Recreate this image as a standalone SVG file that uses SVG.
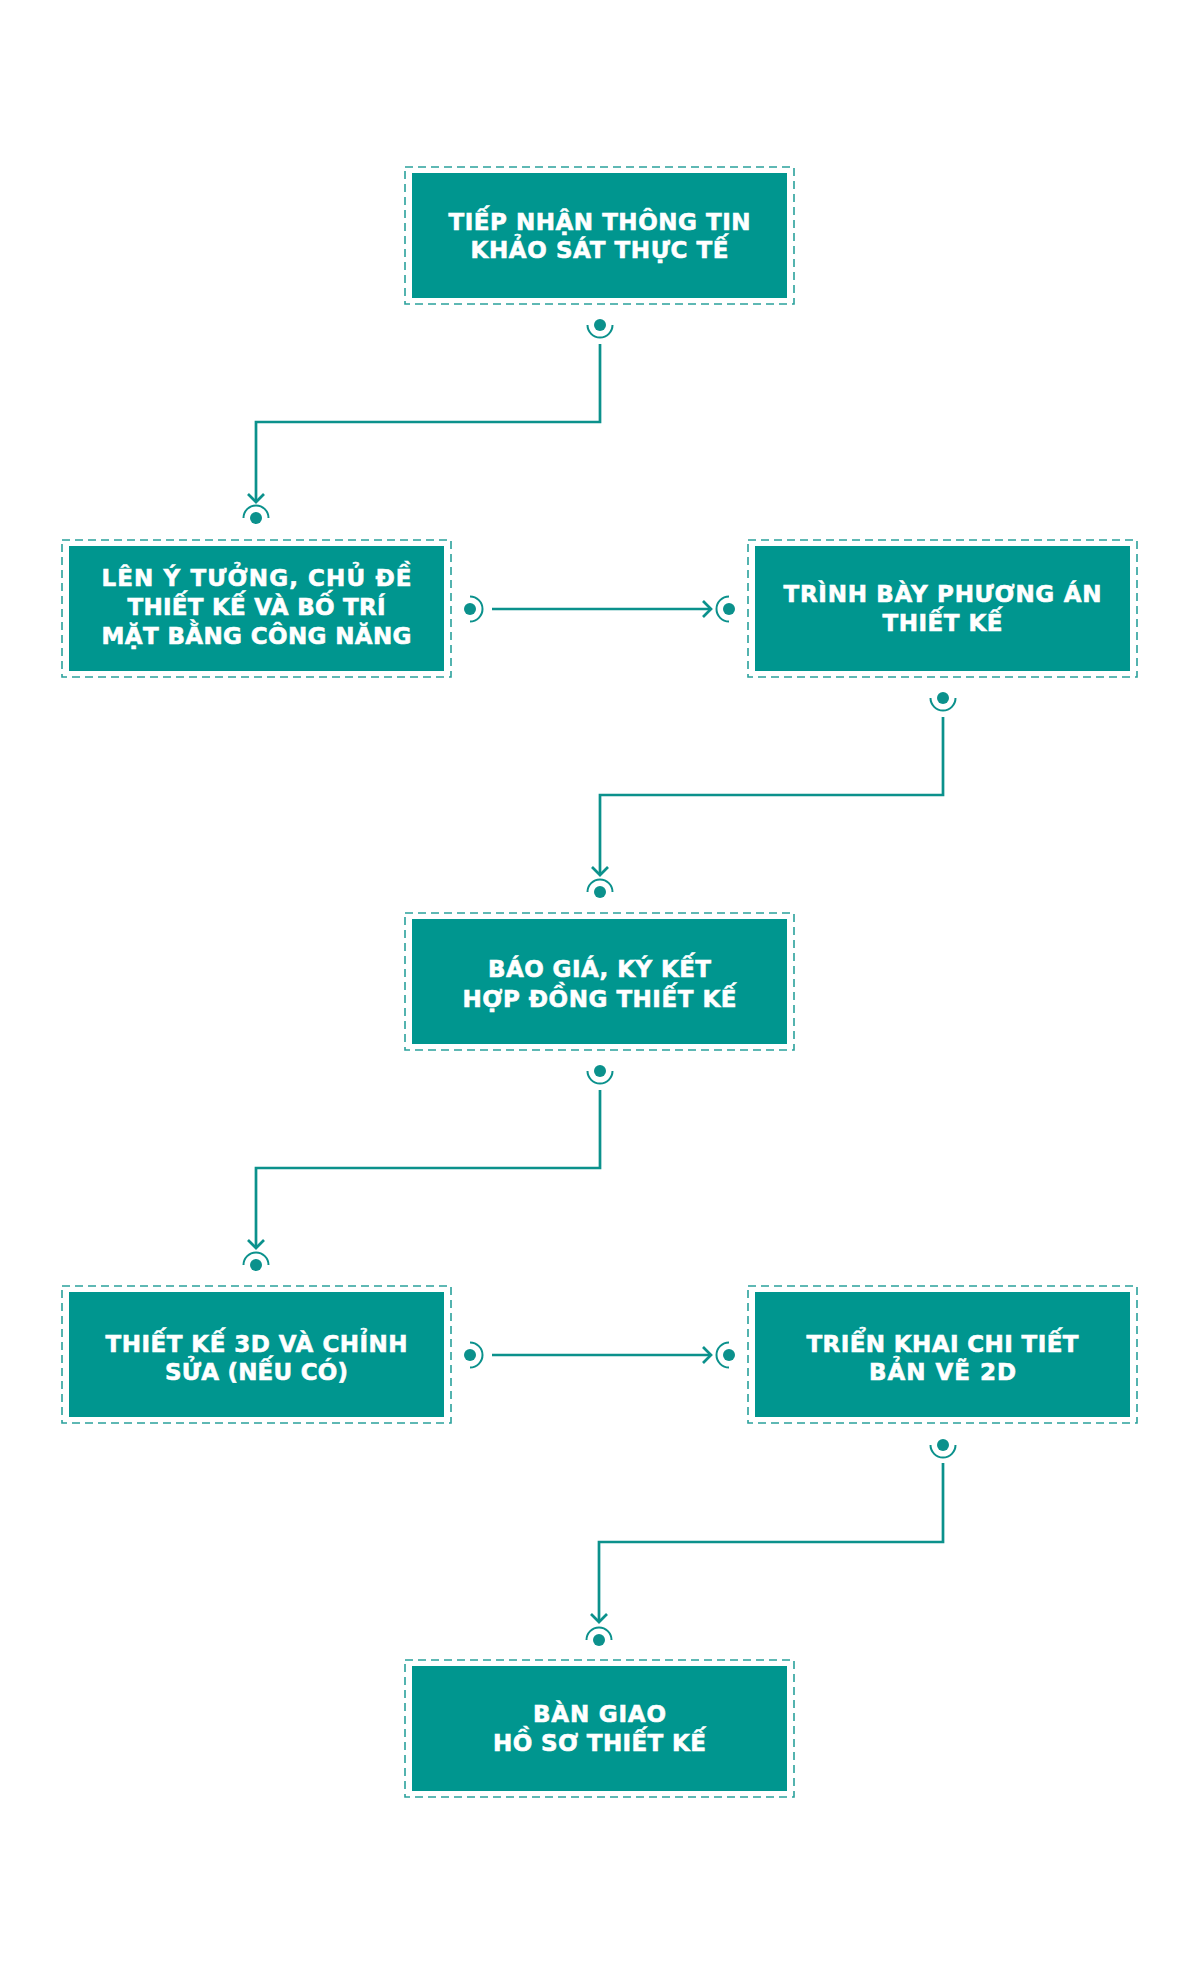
<svg xmlns="http://www.w3.org/2000/svg" width="1200" height="1965" viewBox="0 0 1200 1965">
<defs>
<style>
.outer{fill:none;stroke:#2aa19c;stroke-width:1.6;stroke-dasharray:8 5}
.inner{fill:#00968f}
.lbl{fill:#ffffff;stroke:#ffffff;stroke-width:0.6;font-family:"DejaVu Sans","Liberation Sans",sans-serif;font-weight:bold;font-size:23px;text-anchor:middle}
.ln{fill:none;stroke:#0b918c;stroke-width:2.7}
.arc{fill:none;stroke:#0b918c;stroke-width:2}
.dot{fill:#0b918c}
</style>
<marker id="ah" markerUnits="userSpaceOnUse" markerWidth="24" markerHeight="24" viewBox="-12 -12 24 24" refX="0" refY="0" orient="auto">
<path d="M-8,-8 L0,0 L-8,8" fill="none" stroke="#0b918c" stroke-width="2.7"/>
</marker>
</defs>
<rect width="1200" height="1965" fill="#ffffff"/>

<g id="node1">
<rect class="outer" x="405" y="167" width="389" height="137"/>
<rect class="inner" x="412" y="173" width="375" height="125"/>
<text class="lbl" x="599.5" y="230" textLength="302">TIẾP NHẬN THÔNG TIN</text>
<text class="lbl" x="599.5" y="258" textLength="258">KHẢO SÁT THỰC TẾ</text>
</g>

<g id="node2">
<rect class="outer" x="62" y="540" width="389" height="137"/>
<rect class="inner" x="69" y="546" width="375" height="125"/>
<text class="lbl" x="256.5" y="586" textLength="310">LÊN Ý TƯỞNG, CHỦ ĐỀ</text>
<text class="lbl" x="256.5" y="615" textLength="258">THIẾT KẾ VÀ BỐ TRÍ</text>
<text class="lbl" x="256.5" y="644" textLength="310">MẶT BẰNG CÔNG NĂNG</text>
</g>

<g id="node3">
<rect class="outer" x="748" y="540" width="389" height="137"/>
<rect class="inner" x="755" y="546" width="375" height="125"/>
<text class="lbl" x="942.5" y="602" textLength="318">TRÌNH BÀY PHƯƠNG ÁN</text>
<text class="lbl" x="942.5" y="631" textLength="120">THIẾT KẾ</text>
</g>

<g id="node4">
<rect class="outer" x="405" y="913" width="389" height="137"/>
<rect class="inner" x="412" y="919" width="375" height="125"/>
<text class="lbl" x="599.5" y="977" textLength="223">BÁO GIÁ, KÝ KẾT</text>
<text class="lbl" x="599.5" y="1006.5" textLength="274">HỢP ĐỒNG THIẾT KẾ</text>
</g>

<g id="node5">
<rect class="outer" x="62" y="1286" width="389" height="137"/>
<rect class="inner" x="69" y="1292" width="375" height="125"/>
<text class="lbl" x="256.5" y="1352" textLength="302">THIẾT KẾ 3D VÀ CHỈNH</text>
<text class="lbl" x="256.5" y="1380" textLength="183">SỬA (NẾU CÓ)</text>
</g>

<g id="node6">
<rect class="outer" x="748" y="1286" width="389" height="137"/>
<rect class="inner" x="755" y="1292" width="375" height="125"/>
<text class="lbl" x="942.5" y="1352" textLength="272">TRIỂN KHAI CHI TIẾT</text>
<text class="lbl" x="942.5" y="1380" textLength="147">BẢN VẼ 2D</text>
</g>

<g id="node7">
<rect class="outer" x="405" y="1660" width="389" height="137"/>
<rect class="inner" x="412" y="1666" width="375" height="125"/>
<text class="lbl" x="599.5" y="1722" textLength="133">BÀN GIAO</text>
<text class="lbl" x="599.5" y="1750.5" textLength="213">HỒ SƠ THIẾT KẾ</text>
</g>

<g id="connectors">
<!-- 1 -> 2 -->
<circle class="dot" cx="600" cy="325" r="6"/>
<path class="arc" d="M587.5,325 A12.5,12.5 0 0 0 612.5,325"/>
<path class="ln" d="M600,344 V422 H256 V502" marker-end="url(#ah)"/>
<circle class="dot" cx="256" cy="518" r="6"/>
<path class="arc" d="M243.5,518 A12.5,12.5 0 0 1 268.5,518"/>
<!-- 2 -> 3 -->
<circle class="dot" cx="470" cy="609" r="6"/>
<path class="arc" d="M470,596.5 A12.5,12.5 0 0 1 470,621.5"/>
<path class="ln" d="M492,609 H711" marker-end="url(#ah)"/>
<circle class="dot" cx="729" cy="609" r="6"/>
<path class="arc" d="M729,596.5 A12.5,12.5 0 0 0 729,621.5"/>
<!-- 3 -> 4 -->
<circle class="dot" cx="943" cy="698" r="6"/>
<path class="arc" d="M930.5,698 A12.5,12.5 0 0 0 955.5,698"/>
<path class="ln" d="M943,717 V795 H600 V875" marker-end="url(#ah)"/>
<circle class="dot" cx="600" cy="892" r="6"/>
<path class="arc" d="M587.5,892 A12.5,12.5 0 0 1 612.5,892"/>
<!-- 4 -> 5 -->
<circle class="dot" cx="600" cy="1071" r="6"/>
<path class="arc" d="M587.5,1071 A12.5,12.5 0 0 0 612.5,1071"/>
<path class="ln" d="M600,1090 V1168 H256 V1248" marker-end="url(#ah)"/>
<circle class="dot" cx="256" cy="1265" r="6"/>
<path class="arc" d="M243.5,1265 A12.5,12.5 0 0 1 268.5,1265"/>
<!-- 5 -> 6 -->
<circle class="dot" cx="470" cy="1355" r="6"/>
<path class="arc" d="M470,1342.5 A12.5,12.5 0 0 1 470,1367.5"/>
<path class="ln" d="M492,1355 H711" marker-end="url(#ah)"/>
<circle class="dot" cx="729" cy="1355" r="6"/>
<path class="arc" d="M729,1342.5 A12.5,12.5 0 0 0 729,1367.5"/>
<!-- 6 -> 7 -->
<circle class="dot" cx="943" cy="1445" r="6"/>
<path class="arc" d="M930.5,1445 A12.5,12.5 0 0 0 955.5,1445"/>
<path class="ln" d="M943,1463 V1542 H599 V1622" marker-end="url(#ah)"/>
<circle class="dot" cx="599" cy="1640" r="6"/>
<path class="arc" d="M586.5,1640 A12.5,12.5 0 0 1 611.5,1640"/>
</g>
</svg>
